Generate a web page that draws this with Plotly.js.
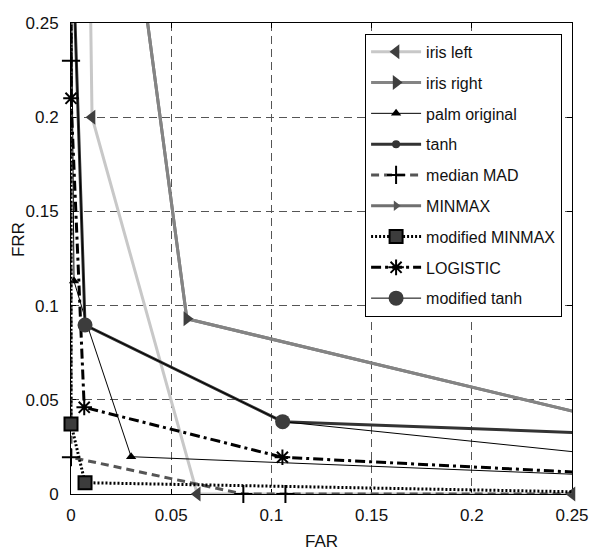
<!DOCTYPE html>
<html>
<head>
<meta charset="utf-8">
<script src="https://cdn.plot.ly/plotly-3.0.1.min.js"></script>
<style>html,body{margin:0;padding:0;background:#fff}</style>
</head>
<body>
<div id="chart" style="width:593px;height:552px"></div>
<script>
// FAR / FRR operating points for each matcher.
// Points at 0.30 continue a curve beyond the visible axes so the line runs off the edge.
const irisLeftFAR   = [0.0092, 0.0105, 0.063, 0.25];
const irisLeftFRR   = [0.30, 0.200, 0.0, 0.0];
const irisRightFAR  = [0.032, 0.0578, 0.30];
const irisRightFRR  = [0.30, 0.093, 0.0313];
const palmFAR       = [0.0, 0.0015, 0.008, 0.030, 0.30];
const palmFRR       = [0.30, 0.113, 0.090, 0.0198, 0.0084];
const tanhFAR       = [0.0005, 0.007, 0.1056, 0.30];
const tanhFRR       = [0.30, 0.0897, 0.0384, 0.0307];
const medianMadFAR  = [0.0, 0.0, 0.0, 0.086, 0.107, 0.30];
const medianMadFRR  = [0.30, 0.230, 0.0195, 0.0, 0.0, 0.0];
const minmaxFAR     = [0.032, 0.0578, 0.30];
const minmaxFRR     = [0.30, 0.093, 0.0313];
const modMinmaxFAR  = [0.0, 0.0, 0.007, 0.30];
const modMinmaxFRR  = [0.30, 0.0372, 0.006, 0.0002];
const logisticFAR   = [0.0, 0.0, 0.0066, 0.1055, 0.30];
const logisticFRR   = [0.30, 0.210, 0.046, 0.0195, 0.009];
const modTanhFAR    = [0.0005, 0.007, 0.1056, 0.30];
const modTanhFRR    = [0.30, 0.0897, 0.0384, 0.017];

const FONT = '"Liberation Sans", Arial, sans-serif';

function series(name, x, y, line, marker, rank) {
  return {
    type: 'scatter', mode: 'lines+markers', name: name, x: x, y: y,
    line: line, marker: marker, cliponaxis: false,
    legendgroup: 'g' + rank, legendrank: rank
  };
}

const traces = [
  series('iris left', irisLeftFAR, irisLeftFRR,
    {color: '#c8c8c8', width: 3},
    {symbol: 'triangle-left', size: 13, color: '#3f3f3f'}, 1),
  series('iris right', irisRightFAR, irisRightFRR,
    {color: '#848484', width: 3},
    {symbol: 'triangle-right', size: 13, color: '#3f3f3f'}, 2),
  series('palm original', palmFAR, palmFRR,
    {color: '#000000', width: 1},
    {symbol: 'triangle-up', size: 9, color: '#000000'}, 3),
  series('tanh', tanhFAR, tanhFRR,
    {color: '#333333', width: 3},
    {symbol: 'circle', size: 8, color: '#333333'}, 4),
  series('median MAD', medianMadFAR, medianMadFRR,
    {color: '#555555', width: 3, dash: '8px,5px'},
    {symbol: 'cross-thin-open', size: 13, color: '#000000', line: {color: '#000000', width: 2}}, 5),
  series('MINMAX', minmaxFAR, minmaxFRR,
    {color: '#707070', width: 3},
    {symbol: 'triangle-right', size: 9, color: '#555555'}, 6),
  series('modified MINMAX', modMinmaxFAR, modMinmaxFRR,
    {color: '#000000', width: 3, dash: '2px,2px'},
    {symbol: 'square', size: 13, color: '#3c3c3c', line: {color: '#000000', width: 2}}, 7),
  series('LOGISTIC', logisticFAR, logisticFRR,
    {color: '#000000', width: 3, dash: '10px,4px,3px,4px'},
    {symbol: 'asterisk-open', size: 13, color: '#000000', line: {color: '#000000', width: 2}}, 8),
  series('modified tanh', modTanhFAR, modTanhFRR,
    {color: '#000000', width: 1},
    {symbol: 'circle', size: 15, color: '#3c3c3c'}, 9)
];

// MINMAX runs underneath iris right
const drawOrder = [0, 5, 1, 2, 3, 4, 6, 7, 8];
const drawn = drawOrder.map(i => traces[i]);

const axisCommon = {
  range: [0, 0.25], dtick: 0.05, tick0: 0, automargin: false,
  showgrid: true, gridcolor: '#555555', gridwidth: 1, griddash: '8px,5px',
  zeroline: false,
  showline: true, linecolor: '#000000', linewidth: 1, mirror: 'ticks',
  ticks: 'inside', ticklen: 5, tickcolor: '#000000',
  tickfont: {family: FONT, size: 17, color: '#111111'},
  layer: 'below traces'
};

const layout = {
  width: 593, height: 552,
  margin: {l: 71, r: 21, t: 23, b: 58},
  paper_bgcolor: '#ffffff', plot_bgcolor: '#ffffff',
  font: {family: FONT, color: '#111111'},
  xaxis: Object.assign({}, axisCommon, {
    title: {text: 'FAR', font: {family: FONT, size: 17, color: '#111111'}, standoff: 10},
    ticklabelstandoff: 6
  }),
  yaxis: Object.assign({}, axisCommon, {
    ticklabelstandoff: 8
  }),
  annotations: [{
    text: 'FRR', textangle: -90, showarrow: false,
    xref: 'paper', yref: 'paper', x: -0.105, y: 0.54,
    xanchor: 'center', yanchor: 'middle',
    font: {family: FONT, size: 17, color: '#111111'}
  }],
  showlegend: true,
  legend: {
    x: 0.587, y: 0.977, xanchor: 'left', yanchor: 'top',
    bgcolor: '#ffffff', bordercolor: '#000000', borderwidth: 1,
    font: {family: FONT, size: 16, color: '#111111'},
    traceorder: 'grouped', tracegroupgap: 7, itemwidth: 50
  }
};

Plotly.newPlot('chart', drawn, layout, {displayModeBar: false, staticPlot: true});
</script>
</body>
</html>
